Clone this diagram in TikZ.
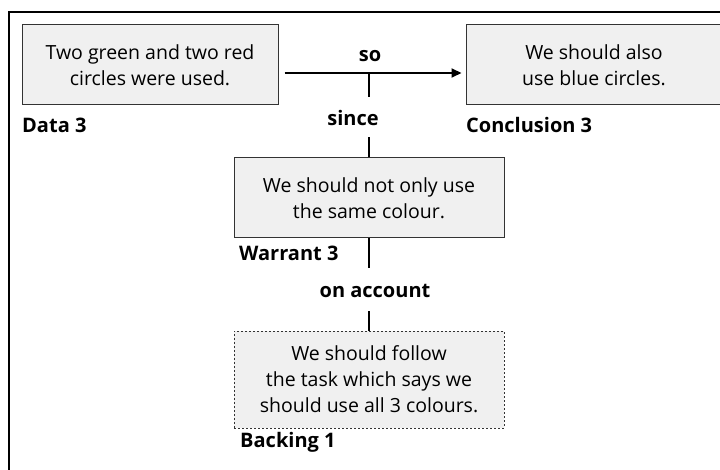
\documentclass[tikz,border=0pt]{standalone}
\usepackage{fontspec}
\setmainfont{Open Sans}
\usetikzlibrary{arrows.meta}

\definecolor{boxfill}{HTML}{F0F0F0}
\definecolor{boxline}{HTML}{333333}

\begin{document}
\begin{tikzpicture}[x=1pt,y=-1pt,
  claim/.style={draw=boxline,fill=boxfill,line width=1pt,minimum width=256pt,
    minimum height=80pt,align=center,inner sep=0pt,
    font=\fontsize{19.5}{26}\selectfont},
  backbox/.style={claim,dashed,dash pattern=on 2pt off 2pt,minimum width=270pt,minimum height=97pt},
  tag/.style={font=\fontsize{20}{22}\selectfont\bfseries,inner sep=0pt,anchor=base west},
  word/.style={font=\fontsize{20}{22}\selectfont\bfseries,inner sep=0pt,anchor=base},
  link/.style={line width=2pt}]
\useasboundingbox (0,0) rectangle (720,470);
\begin{scope}
\clip (0,0) rectangle (720,470);
\draw [line width=2pt] (9,12) rectangle (730,480);
% boxes
\node[claim] (data) at (150,65) {Two green and two red\\circles were used.};
\node[claim] (concl) at (594,65) {We should also\\use blue circles.};
\node[claim,minimum width=270pt] (warrant) at (369,198) {We should not only use\\the same colour.};
\node[backbox] (backing) at (369,379.5) {We should follow\\the task which says we\\should use all 3 colours.};
\end{scope}
% labels
\node[tag] (dataL) at (22,133) {Data 3};
\node[tag] (conclL) at (466,133) {Conclusion 3};
\node[tag] (warrantL) at (239,261) {Warrant 3};
\node[tag] (backingL) at (240,447) {Backing 1};
\node[word] (so) at (370,62) {so};
\node[word] (since) at (353,126) {since};
\node[word] (onacc) at (375,298) {on account};
% connectors
\coordinate (j) at (369,73);
\draw [link,-{Triangle[length=10pt,width=9pt]}] ([xshift=6pt,yshift=-8pt]data.east) -- ([xshift=-4pt,yshift=-8pt]concl.west);
\draw [link] (j) -- ++(0,24);
\draw [link] (warrant.north) -- ++(0,-20);
\draw [link] (warrant.south) -- ++(0,30);
\draw [link] (backing.north) -- ++(0,-20);
\end{tikzpicture}
\end{document}
